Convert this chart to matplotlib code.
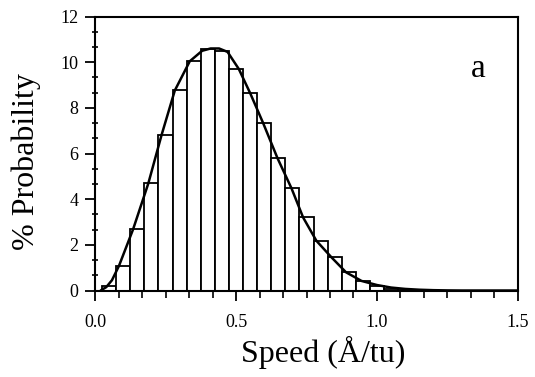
import matplotlib
matplotlib.use("Agg")
import matplotlib.pyplot as plt
from matplotlib.ticker import MultipleLocator, FixedLocator

# Histogram of speeds (bin centres, % probability) and the fitted distribution
bin_centers = [0.05, 0.10, 0.15, 0.20, 0.25, 0.30, 0.35, 0.40, 0.45, 0.50, 0.55,
               0.60, 0.65, 0.70, 0.75, 0.80, 0.85, 0.90, 0.95, 1.00, 1.05, 1.10]
bin_heights = [0.2, 1.08, 2.68, 4.69, 6.81, 8.76, 10.04, 10.56, 10.5, 9.7, 8.65,
               7.34, 5.8, 4.47, 3.2, 2.18, 1.46, 0.8, 0.42, 0.18, 0.08, 0.03]
bin_width = 0.05

fit_x = [0.02, 0.04, 0.06, 0.085, 0.135, 0.189, 0.236, 0.283, 0.336, 0.38, 0.41,
         0.44, 0.47, 0.51, 0.55, 0.596, 0.647, 0.697, 0.738, 0.785, 0.838, 0.89,
         0.945, 1.0, 1.05, 1.1, 1.15, 1.2, 1.25, 1.3, 1.4, 1.5]
fit_y = [0.0, 0.15, 0.45, 1.08, 2.68, 4.69, 6.81, 8.76, 10.04, 10.5, 10.6,
         10.6, 10.45, 9.7, 8.65, 7.34, 5.8, 4.47, 3.2, 2.18, 1.46, 0.8,
         0.42, 0.24, 0.13, 0.07, 0.035, 0.015, 0.005, 0.0, 0.0, 0.0]

x_ticks = [0.0, 0.5, 1.0, 1.5]
x_tick_labels = ["0.0", "0.5", "1.0", "1.5"]
y_ticks = [0, 2, 4, 6, 8, 10, 12]

plt.rcParams["font.family"] = ["Liberation Serif", "DejaVu Serif"]

fig = plt.figure(figsize=(5.35, 3.77), dpi=100)
ax = fig.add_axes([0.1776, 0.2294, 0.9682 - 0.1776, 0.9562 - 0.2294])

ax.bar(bin_centers, bin_heights, width=bin_width, color="white",
       edgecolor="black", linewidth=1.3, zorder=2)
ax.plot(fit_x, fit_y, color="black", linewidth=1.8, zorder=3,
        solid_capstyle="round")

ax.set_xlim(0, 1.5)
ax.set_ylim(0, 12)

ax.xaxis.set_major_locator(FixedLocator(x_ticks))
ax.set_xticklabels(x_tick_labels)
ax.xaxis.set_minor_locator(MultipleLocator(1 / 12))
ax.yaxis.set_major_locator(FixedLocator(y_ticks))
ax.yaxis.set_minor_locator(MultipleLocator(2 / 3))

ax.tick_params(axis="x", which="major", direction="out", length=7, width=1.3,
               pad=10, labelsize=13)
ax.tick_params(axis="x", which="minor", direction="out", length=5, width=1.2)
ax.tick_params(axis="y", which="major", direction="out", length=7, width=1.3,
               pad=5, labelsize=13)
ax.tick_params(axis="y", which="minor", direction="inout", length=5, width=1.2)

for sp in ax.spines.values():
    sp.set_linewidth(1.5)

ax.set_xlabel("Speed (Å/tu)", fontsize=23)
ax.xaxis.set_label_coords(0.54, -0.165)
ax.set_ylabel("% Probability", fontsize=23)
ax.yaxis.set_label_coords(-0.127, 0.47)

ax.text(0.905, 0.81, "a", transform=ax.transAxes, fontsize=24,
        ha="center", va="center")

fig.savefig("out.png", dpi=100)
